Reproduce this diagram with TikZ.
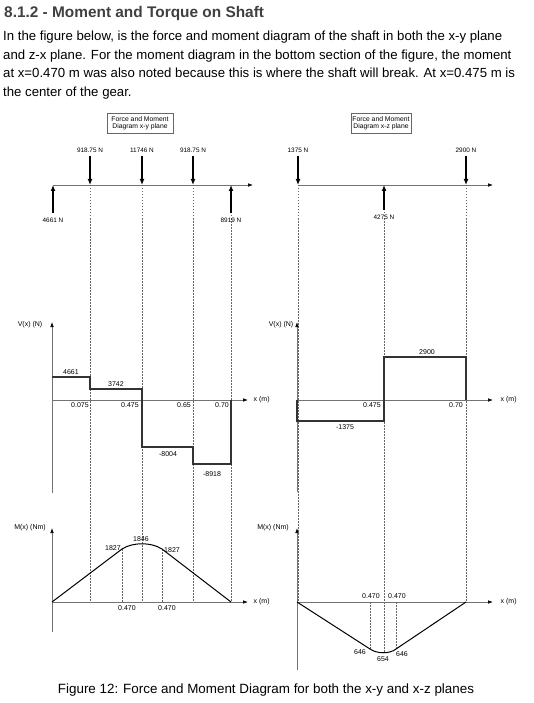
\documentclass[tikz,border=0pt]{standalone}
\usepackage{fontspec}
\setmainfont{Liberation Sans}
\usetikzlibrary{arrows.meta,calc,positioning}
\tikzset{
        lbl/.style = {font=\fontsize{7}{8}\selectfont, inner sep=0.5pt},
        flbl/.style = {font=\fontsize{6.4}{7}\selectfont, inner sep=0.5pt},
        planebox/.style = {draw=black!60, line width=0.4pt, rectangle, align=center,
            font=\fontsize{6.8}{7.4}\selectfont, minimum height=20pt, inner sep=1pt},
        force/.style = {draw, line width=1.2pt, -{Latex[length=6pt,width=5pt]}},
        axisline/.style = {draw=black!55, line width=0.7pt, -{Latex[black,length=5pt,width=3.6pt]}},
        guide/.style = {draw=black!60, line width=0.5pt, dash pattern=on 1.5pt off 1.5pt},
        shear/.style = {draw=black!80, line width=1.3pt},
        mom/.style = {draw=black, line width=1pt},
    }

\begin{document}
\begin{tikzpicture}[x=1pt,y=-1pt]
\useasboundingbox (0,0) rectangle (534,703);

\node[anchor=base west, inner sep=0, text=black!75,
      font=\fontsize{15.4}{18}\selectfont\bfseries] (title) at (4,18)
      {8.1.2 - Moment and Torque on Shaft};
\node[anchor=north west, inner sep=0, align=left,
      font=\fontsize{13.2}{18.5}\selectfont] (intro) at (3,31)
      {In the figure below, is the force and moment diagram of the shaft in both the x-y plane\\
       and z-x plane. For the moment diagram in the bottom section of the figure, the moment\\
       at x=0.470 m was also noted because this is where the shaft will break. At x=0.475 m is\\
       the center of the gear.};

% x-y plane
\node[planebox, minimum width=66pt] (boxxy) at (140,123) {Force and Moment\\Diagram x-y plane};
\foreach \n/\x in {a/53,b/90,c/142,d/193,e/231}
    \coordinate (\n) at (\x,185);
\coordinate (xyend) at (253,185);
\coordinate (m0) at (52,602);
\draw[axisline] (a) -- (xyend);
\foreach \n in {b,c,d,e}
    \draw[guide] (\n) -- (\n |- m0);
\foreach \n/\v in {b/918.75 N,c/11746 N,d/918.75 N}{
    \coordinate (\n0) at ($(\n)+(0,-29)$);
    \draw[force] (\n0) -- (\n);
    \node[flbl, above=3pt of \n0] (\n lbl) {\v};
}
\foreach \n/\v in {a/4661 N,e/8919 N}{
    \coordinate (\n0) at ($(\n)+(0,28)$);
    \draw[force] (\n0) -- (\n);
    \node[flbl, below=4pt of \n0] (\n lbl) {\v};
}

% x-z plane
\node[planebox, minimum width=60pt] (boxxz) at (381,123) {Force and Moment\\Diagram x-z plane};
\foreach \n/\x in {p/298,q/384,r/466}
    \coordinate (\n) at (\x,185);
\coordinate (xzend) at (493,185);
\draw[axisline] (p) -- (xzend);
\draw[guide] (p) -- (p |- m0);
\draw[guide] (q) -- ($(q |- m0)+(0,50)$);
\draw[guide] (r) -- (r |- m0);
\foreach \n/\v in {p/1375 N,r/2900 N}{
    \coordinate (\n0) at ($(\n)+(0,-29)$);
    \draw[force] (\n0) -- (\n);
    \node[flbl, above=3pt of \n0] (\n lbl) {\v};
}
\coordinate (q0) at ($(q)+(0,25)$);
\draw[force] (q0) -- (q);
\node[flbl, below=4pt of q0] (q lbl) {4275 N};

% shear x-y
\draw[axisline] (52,493) -- (52,322);
\draw[axisline] (52,400) -- (248,400);
\node[lbl] (vxy) at (30,325) {V(x) (N)};
\node[lbl, anchor=west] (xxy) at (253,400) {x (m)};
\draw[shear] (52,377) -- (90,377) -- (90,389) -- (142,389) -- (142,447)
    -- (193,447) -- (193,464) -- (231,464) -- (231,400);
\foreach \t/\x/\y in {4661/71/372, 3742/116/384, 0.075/80/405, 0.475/130/405,
                     0.65/184/405, 0.70/222/405, -8004/168/454, -8918/212/474}
    \node[lbl] at (\x,\y) {\t};

% shear x-z
\draw[axisline] (297,492) -- (297,322);
\draw[axisline] (297,400) -- (493,400);
\node[lbl] (vxz) at (281,325) {V(x) (N)};
\node[lbl, anchor=west] (xxz) at (500,400) {x (m)};
\draw[shear] (297,400) -- (297,421) -- (384,421) -- (384,357) -- (466,357) -- (466,400);
\foreach \t/\x/\y in {2900/427/352, -1375/345/427, 0.475/372/405, 0.70/456/405}
    \node[lbl] at (\x,\y) {\t};

% moment x-y
\draw[axisline] (52,632) -- (52,528);
\draw[axisline] (m0) -- (248,602);
\node[lbl] (mxy) at (30,528) {M(x) (Nm)};
\node[lbl, anchor=west] (xmxy) at (253,602) {x (m)};
\draw[guide] (122,549) -- (122,602);
\draw[guide] (162,549) -- (162,602);
\draw[mom] (m0) -- (122,549) .. controls (133,542) and (151,542) .. (162,549) -- (231,602);
\foreach \t/\x/\y in {1846/141/539, 1827/113/548, 1827/172/550, 0.470/127/608, 0.470/167/608}
    \node[lbl] at (\x,\y) {\t};

% moment x-z
\draw[axisline] (297,670) -- (297,528);
\draw[axisline] (297,602) -- (493,602);
\node[lbl] (mxz) at (273,528) {M(x) (Nm)};
\node[lbl, anchor=west] (xmxz) at (500,602) {x (m)};
\draw[guide] (370,602) -- (370,649);
\draw[guide] (396,602) -- (396,649);
\draw[mom] (297,602) -- (370,649) .. controls (377,654) and (390,654) .. (396,649) -- (466,602);
\foreach \t/\x/\y in {0.470/371/596, 0.470/397/596, 646/360/652, 654/383/659, 646/402/654}
    \node[lbl] at (\x,\y) {\t};

\node[font=\fontsize{13.4}{15}\selectfont] (fig) at (266,690)
    {Figure 12: Force and Moment Diagram for both the x-y and x-z planes};
\end{tikzpicture}
\end{document}
